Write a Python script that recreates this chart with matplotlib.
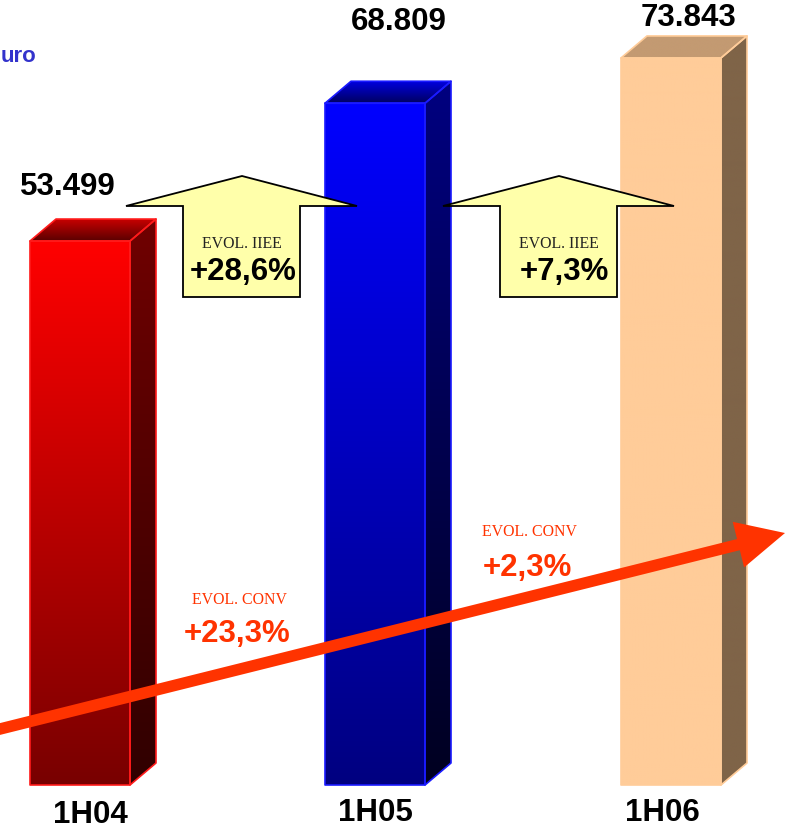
import numpy as np
import matplotlib.pyplot as plt
from matplotlib.patches import Polygon, FancyArrow
from matplotlib.colors import to_rgb

# half-year revenue (million euro)
periods = ["1H04", "1H05", "1H06"]
revenue = [53.499, 68.809, 73.843]
value_labels = ["53.499", "68.809", "73.843"]
iiee_growth = ["+28,6%", "+7,3%"]
conv_growth = ["+23,3%", "+2,3%"]

W, H = 786, 831
fig = plt.figure(figsize=(W / 100, H / 100), dpi=100)
ax = fig.add_axes([0, 0, 1, 1])
ax.axis("off")

scale = 9.0          # pixels per million
floor = -6.94        # value at the bar floor
floor_px = 785
depth_x = 26
depth_y = 22 / scale

bar_left = [30, 325, 621]
bar_w = 100
# (front top, front bottom, side top, side bottom, roof back, roof front, edge)
styles = [
    ("#ff0000", "#780000", "#700000", "#300000", "#c80000", "#5a0000", "#ff1a1a"),
    ("#0000ff", "#000080", "#000080", "#000020", "#0000e0", "#000060", "#1a1aff"),
    ("#ffcc99", "#ffcc99", "#7f6448", "#7f6448", "#c39a72", "#c39a72", "#ffcc99"),
]


def shade(pts, c_top, c_bot, z):
    xs, ys = zip(*pts)
    clip = Polygon(pts, closed=True, fc="none", ec="none")
    ax.add_patch(clip)
    t = np.linspace(0, 1, 256)[:, None, None]
    img = (1 - t) * np.array(to_rgb(c_top)) + t * np.array(to_rgb(c_bot))
    im = ax.imshow(img, extent=(min(xs), max(xs), min(ys), max(ys)),
                   origin="upper", aspect="auto", zorder=z,
                   interpolation="bilinear")
    im.set_clip_path(clip)


for x0, v, st in zip(bar_left, revenue, styles):
    x1 = x0 + bar_w
    front = [(x0, floor), (x1, floor), (x1, v), (x0, v)]
    side = [(x1, floor), (x1 + depth_x, floor + depth_y),
            (x1 + depth_x, v + depth_y), (x1, v)]
    roof = [(x0, v), (x1, v), (x1 + depth_x, v + depth_y),
            (x0 + depth_x, v + depth_y)]
    shade(front, st[0], st[1], 2)
    shade(side, st[2], st[3], 2)
    shade(roof, st[4], st[5], 2)
    for pts in (front, side, roof):
        ax.add_patch(Polygon(pts, closed=True, fc="none", ec=st[6],
                             lw=1.2, zorder=3, joinstyle="round"))

ax.set_xlim(0, W)
ax.set_ylim(floor - (H - floor_px) / scale, floor + floor_px / scale)

# overlay in pixel coordinates for arrows and annotations
ov = fig.add_axes([0, 0, 1, 1])
ov.set_xlim(0, W)
ov.set_ylim(H, 0)
ov.axis("off")
ov.patch.set_alpha(0)

bold = dict(family="Liberation Sans", fontweight="bold", fontsize=22.5)
serif = dict(family="Liberation Serif", fontsize=11.4)

# value labels and period names
for s, x, y in zip(value_labels, [68, 399, 688], [187, 22, 18]):
    ov.text(x, y, s, ha="center", va="center", color="black", **bold)
for s, x, y in zip(periods, [90, 375, 662], [815, 813, 813]):
    ov.text(x, y, s, ha="center", va="center", color="black", **bold)

ov.text(1, 57, "uro", ha="left", va="center", color="#3333cc",
        family="Liberation Sans", fontweight="bold", fontsize=16)

# yellow block arrows: IIEE growth
for cx, lbl, off in zip([242, 559], iiee_growth, [1, 5]):
    sl, sr = cx - 59, cx + 58
    pts = [(sl, 297), (sl, 206), (cx - 116, 206), (cx, 176),
           (cx + 115, 206), (sr, 206), (sr, 297)]
    ov.add_patch(Polygon(pts, closed=True, fc="#ffffaa", ec="black",
                         lw=1.3, zorder=4))
    ov.text(cx, 244, "EVOL. IIEE", ha="center", va="center",
            color="#222222", zorder=5, **serif)
    ov.text(cx + off, 272, lbl, ha="center", va="center", color="black",
            zorder=5, **bold)

# red trend arrow: conventional growth
red = "#ff3300"
ov.add_patch(FancyArrow(-10, 731.5, 795, -198.5, width=11.5,
                        head_width=47, head_length=48,
                        length_includes_head=True, fc=red, ec=red,
                        lw=0, zorder=6))
for (x, y1, y2), lbl in zip([(240, 600, 634), (530, 532, 568)], conv_growth):
    ov.text(x, y1, "EVOL. CONV", ha="center", va="center", color=red,
            zorder=7, **serif)
    ov.text(x - 3, y2, lbl, ha="center", va="center", color=red, zorder=7,
            **bold)

fig.savefig("out.png", dpi=100)
